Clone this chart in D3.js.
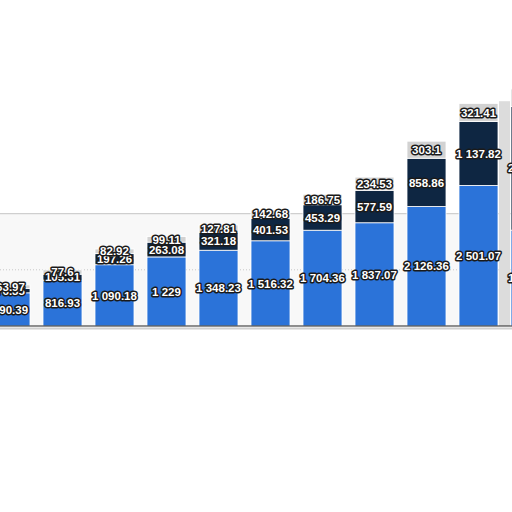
<!DOCTYPE html>
<html>
<head>
<meta charset="utf-8">
<script src="https://cdn.jsdelivr.net/npm/d3@7"></script>
<style>
  body { margin: 0; background: #fff; }
  .lbl { font-family: "Liberation Sans", Arial, sans-serif; font-weight: bold; font-size: 11.5px;
         fill: #fff; stroke: #1a1a1a; stroke-width: 3px; paint-order: stroke; stroke-linejoin: round; }
</style>
</head>
<body>
<div class="chart"></div>
<script>
// values (first and last bars are cut off at the edges)
const categories = ["2011", "2012", "2013", "2014", "2015", "2016", "2017", "2018", "2019", "2020", "2021"];
const seriesBlue = [590.39, 816.93, 1090.18, 1229, 1348.23, 1516.32, 1704.36, 1837.07, 2126.36, 2501.07, 1705.32];
const seriesNavy = [76.35, 105.31, 197.26, 263.08, 321.18, 401.53, 453.29, 577.59, 858.86, 1137.82, 2201.64];
const seriesGray = [63.97, 77.6, 82.92, 99.11, 127.81, 142.68, 186.75, 234.53, 303.1, 321.41, 310.5];
const gridTicks = [1000];

const width = 512, height = 512;
const svg = d3.select(".chart").append("svg")
    .attr("width", width)
    .attr("height", height);

const xScale = d3.scaleBand()
    .domain(categories)
    .range([-15.5, 556.5])
    .paddingInner(0.25)
    .paddingOuter(0.125);
const yScale = d3.scaleLinear()
    .domain([0, 4000])
    .range([326, 101.2]);

// plot background below the 2000 line
svg.append("rect")
    .attr("x", 0).attr("width", width)
    .attr("y", yScale(2000)).attr("height", yScale(0) - yScale(2000))
    .attr("fill", "#f8f8f8");
svg.append("line")
    .attr("x1", 0).attr("x2", width)
    .attr("y1", yScale(2000)).attr("y2", yScale(2000))
    .attr("stroke", "#cfcfcf").attr("stroke-width", 1.2);

// dotted grid
svg.selectAll(".grid")
    .data(gridTicks)
    .enter()
    .append("line")
    .attr("x1", 0).attr("x2", width)
    .attr("y1", d => yScale(d)).attr("y2", d => yScale(d))
    .attr("stroke", "#c8c8c8")
    .attr("stroke-dasharray", "1,2");

const rows = categories.map((c, i) => ({
    cat: c, blue: seriesBlue[i], navy: seriesNavy[i], gray: seriesGray[i]
}));
const stack = d3.stack().keys(["blue", "navy", "gray"])(rows);
const colors = { blue: "#2b73d9", navy: "#0e2642", gray: "#d2d2d2" };

const layers = svg.selectAll(".layer")
    .data(stack)
    .enter()
    .append("g")
    .attr("fill", d => colors[d.key]);

layers.selectAll("rect")
    .data(d => d)
    .enter()
    .append("rect")
    .attr("x", d => xScale(d.data.cat))
    .attr("width", xScale.bandwidth())
    .attr("y", d => yScale(d[1]))
    .attr("height", d => yScale(d[0]) - yScale(d[1]))
    .attr("stroke", "#fff")
    .attr("stroke-width", 0.8);

// light strip at the right edge
svg.append("rect")
    .attr("x", 499).attr("width", 11)
    .attr("y", yScale(4000)).attr("height", yScale(0) - yScale(4000))
    .attr("fill", "#dcdcdc");

// axis line
svg.append("line")
    .attr("x1", 0).attr("x2", width)
    .attr("y1", yScale(0)).attr("y2", yScale(0))
    .attr("stroke", "#222").attr("stroke-width", 1);
svg.append("line")
    .attr("x1", 0).attr("x2", width)
    .attr("y1", yScale(0) + 2.5).attr("y2", yScale(0) + 2.5)
    .attr("stroke", "#d0d0d0").attr("stroke-width", 2);

// value labels
const fmt = v => d3.format(",")(v).replace(/,/g, " ");
stack.forEach(layer => {
    svg.selectAll(".lbl-" + layer.key)
        .data(layer)
        .enter()
        .append("text")
        .attr("class", "lbl")
        .attr("x", d => xScale(d.data.cat) + xScale.bandwidth() / 2)
        .attr("y", d => (yScale(d[0]) + yScale(d[1])) / 2)
        .attr("dy", "0.36em")
        .attr("text-anchor", "middle")
        .text(d => fmt(d.data[layer.key]));
});
</script>
</body>
</html>
